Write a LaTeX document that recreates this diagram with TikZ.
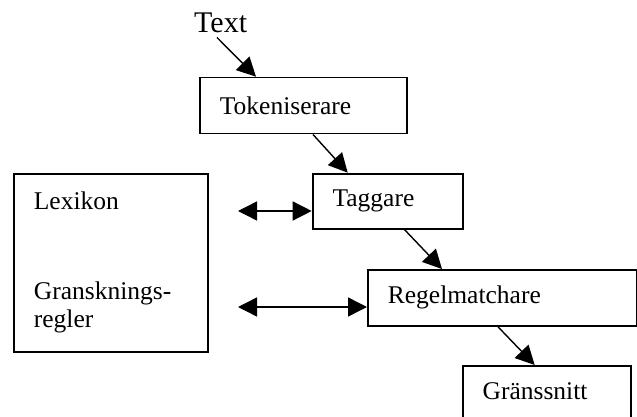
\documentclass[tikz,border=0pt]{standalone}
\usepackage{fontspec}
\setmainfont{Liberation Serif}
\usepackage{tikz}
\usetikzlibrary{shapes, positioning, arrows.meta}

\tikzset{
  box/.style={draw, line width=1.8pt, rectangle, anchor=north west, align=left,
    inner xsep=20pt, inner ysep=0pt, font=\fontsize{25.5}{28.3}\selectfont},
  flow/.style={line width=1.4pt, -{Triangle[length=19pt,width=19pt]}},
  both/.style={line width=1.4pt, {Triangle[length=19pt,width=19pt]}-{Triangle[length=19pt,width=19pt]}}
}

\begin{document}
\begin{tikzpicture}[x=1pt, y=-1pt]
          \useasboundingbox (0,0) rectangle (637,417);
          \clip (0,0) rectangle (637,417);

          \node[anchor=base west, inner sep=0pt, font=\fontsize{30}{34}\selectfont] (txt) at (194,33) {Text};
          \node[box, text width=166.7pt, minimum height=56pt] (tok) at (199,76.7) {Tokeniserare};
          \node[box, text width=110pt, minimum height=55.3pt] (tag) at (311.7,172.7) {Taggare};
          \node[box, text width=229pt, minimum height=56pt] (reg) at (367,269) {Regelmatchare};
          \node[box, text width=128.3pt, minimum height=64pt, text depth=14pt] (gra) at (461.7,365) {Gränssnitt};
          \node[box, text width=154pt, minimum height=178pt] (lex) at (13,172.7)
            {Lexikon\\[61pt]Gransknings-\\regler};

          \draw[flow] ([xshift=23pt,yshift=-4pt]txt.south west) -- ([xshift=57pt]tok.north west);
          \draw[flow] ([xshift=114pt]tok.south west) -- ([xshift=36pt]tag.north west);
          \draw[flow] ([xshift=93pt]tag.south west) -- ([xshift=75pt]reg.north west);
          \draw[flow] ([xshift=131pt]reg.south west) -- ([xshift=73pt]gra.north west);

          \coordinate (lexA) at (238,211);
          \coordinate (lexB) at (238,307);
          \draw[both] (lexA) -- (lexA -| tag.west);
          \draw[both] (lexB) -- (lexB -| reg.west);
        \end{tikzpicture}
\end{document}
